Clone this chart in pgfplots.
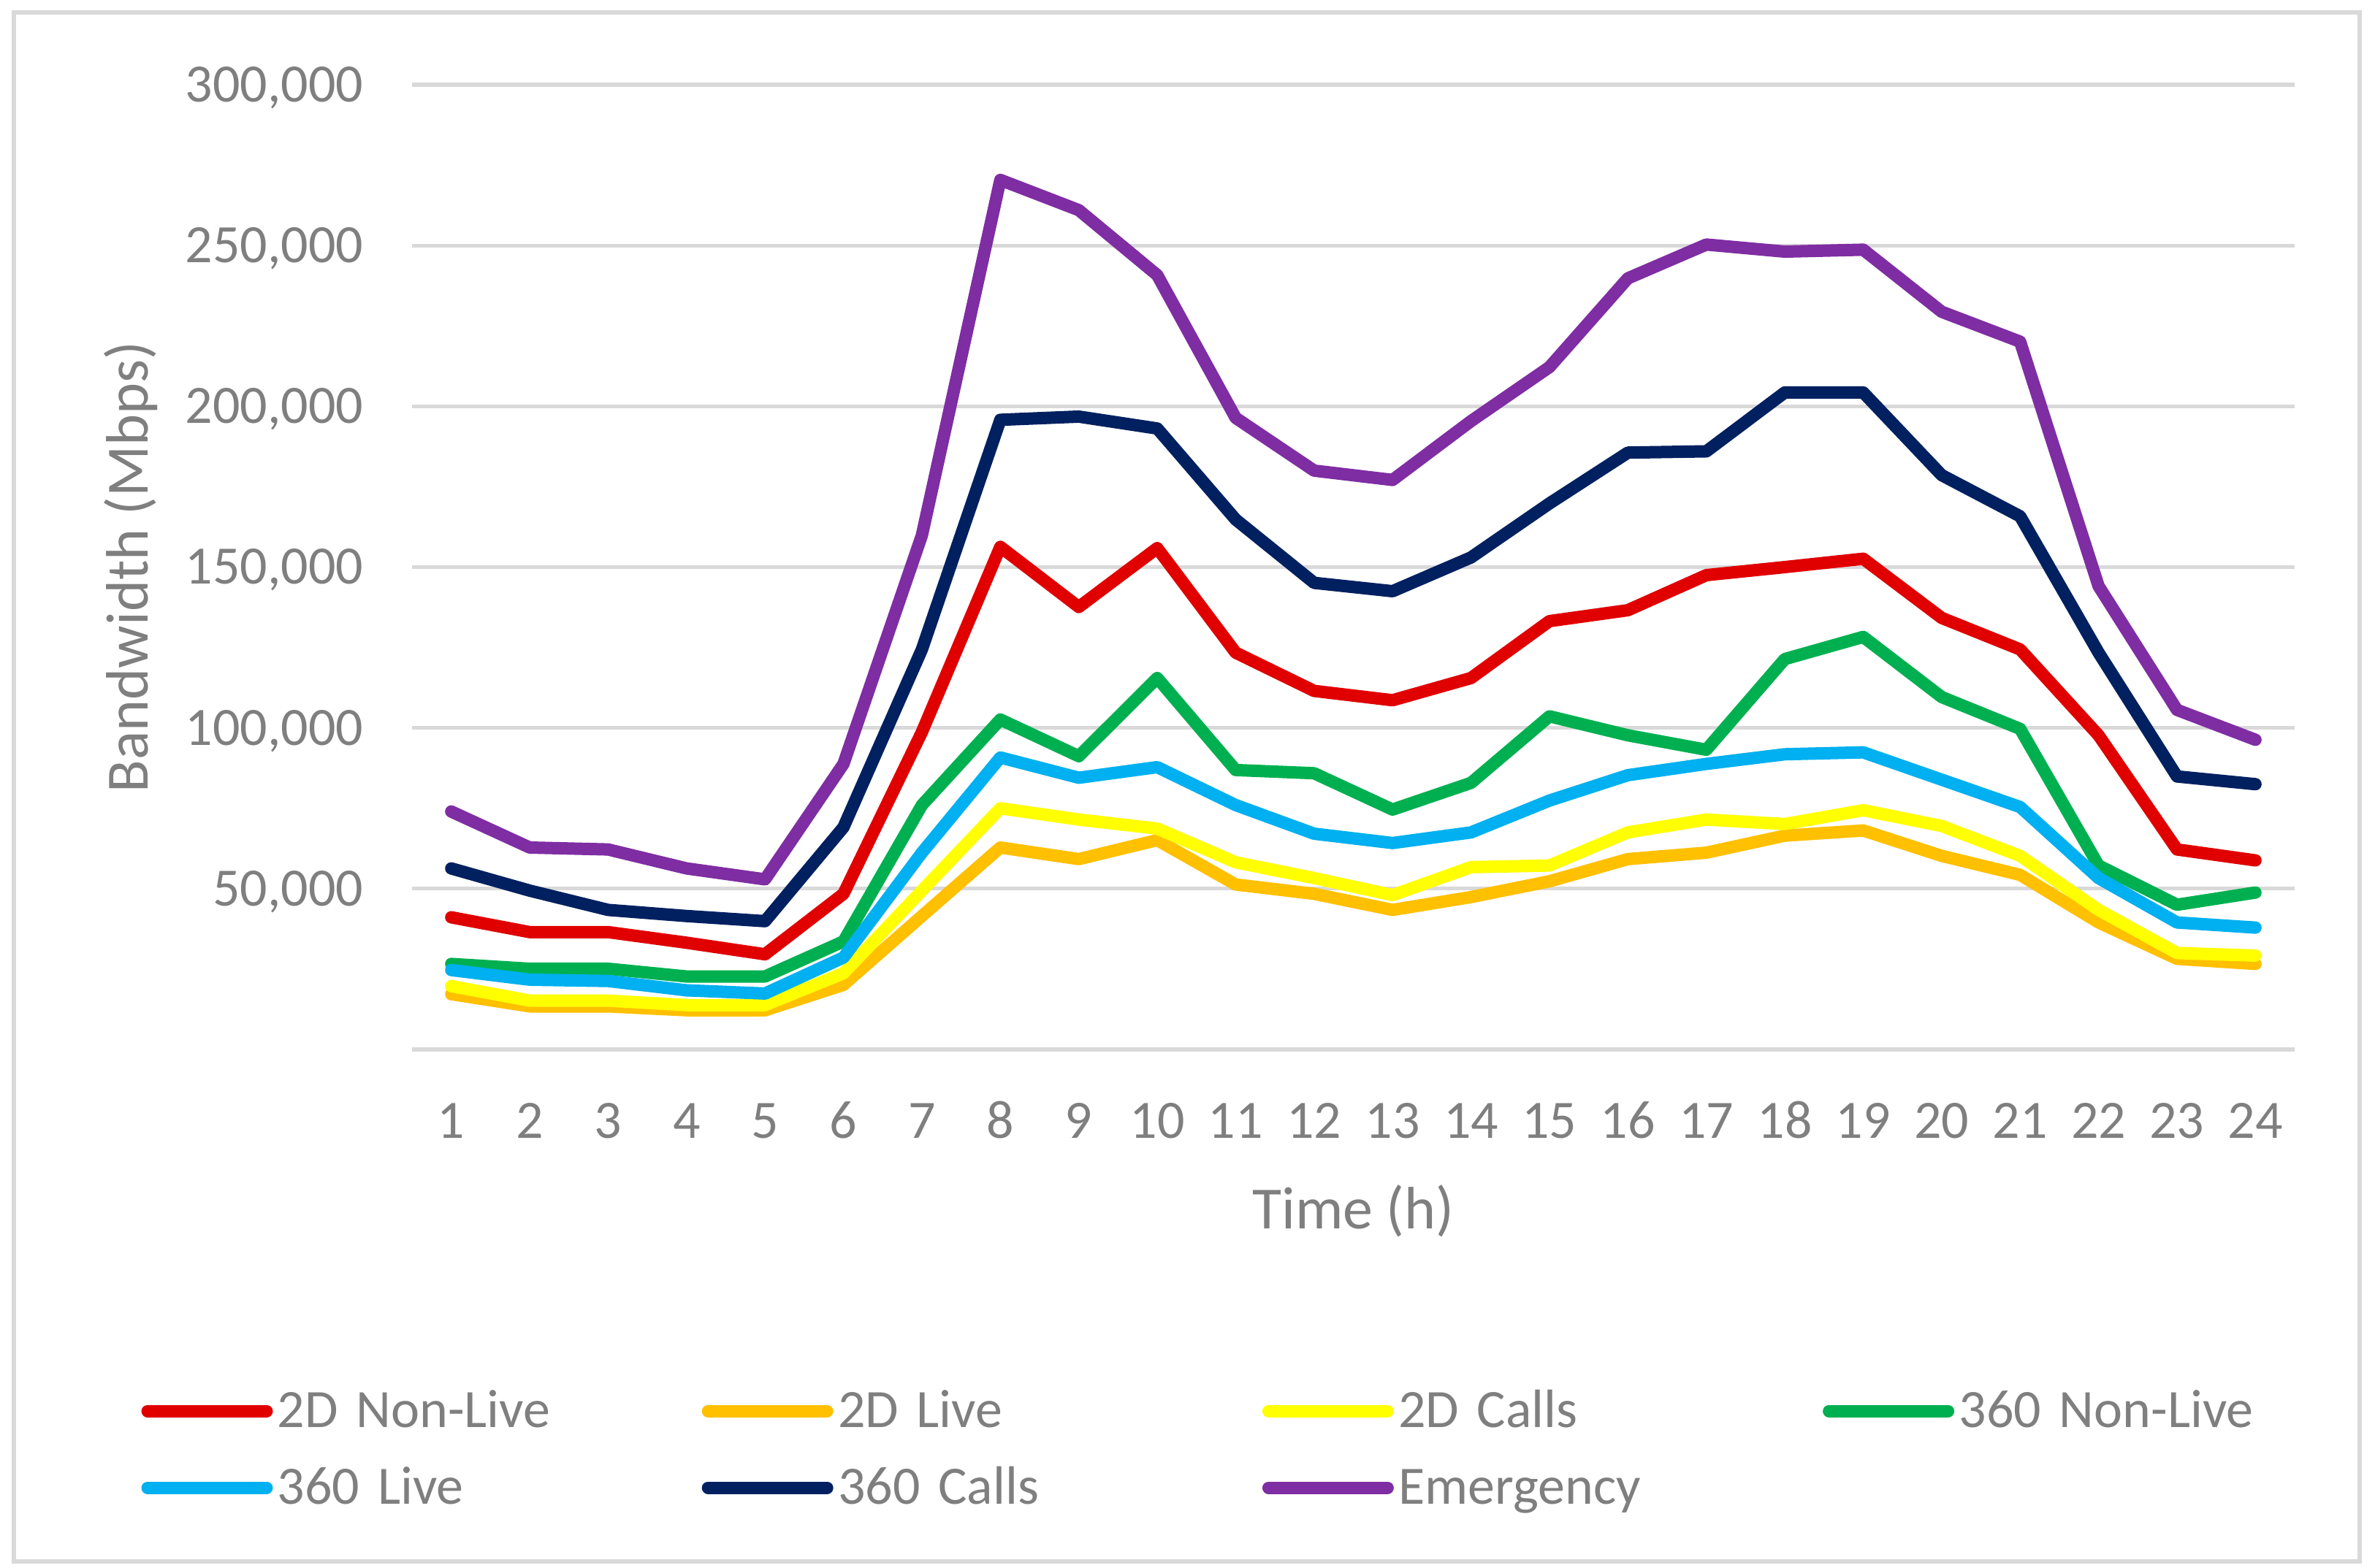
\documentclass[border=0pt]{standalone}
\usepackage{fontspec}
\setmainfont{Carlito}
\usepackage{pgfplots}
\pgfplotsset{compat=1.18}
\definecolor{txtgray}{HTML}{7F7F7F}
\definecolor{gridgray}{HTML}{D9D9D9}
\definecolor{cRed}{HTML}{E00000}
\definecolor{cOrange}{HTML}{FFC000}
\definecolor{cYellow}{HTML}{FFFF00}
\definecolor{cGreen}{HTML}{00B050}
\definecolor{cCyan}{HTML}{00B0F0}
\definecolor{cNavy}{HTML}{002060}
\definecolor{cPurple}{HTML}{7F2DA3}
\begin{document}
\begin{tikzpicture}
\useasboundingbox (0,0) rectangle (812.75pt,536.5pt);
\draw[gridgray, line width=1.5pt] (4.75pt,2pt) rectangle (807.5pt,532.25pt);
\begin{axis}[
  at={(141pt,177.25pt)}, anchor=south west,
  scale only axis, width=644.25pt, height=330.25pt,
  xmin=0.5, xmax=24.5, ymin=0, ymax=300000,
  xtick={1,2,...,24},
  xticklabels={1,2,3,4,5,6,7,8,9,10,11,12,13,14,15,16,17,18,19,20,21,22,23,24},
  ytick={0,50000,100000,150000,200000,250000,300000},
  yticklabels={{},{50,000},{100,000},{150,000},{200,000},{250,000},{300,000}},
  scaled y ticks=false, scaled x ticks=false,
  ymajorgrids, grid style={gridgray, line width=1.3pt},
  axis line style={draw=none},
  major tick length=0pt,
  tick style={draw=none},
  ticklabel style={font=\fontsize{18.5}{22}\selectfont, text=txtgray, inner sep=0pt},
  xticklabel style={anchor=base, yshift=-30.25pt},
  yticklabel style={anchor=base east, xshift=-16.5pt, yshift=-5.85pt},
  label style={font=\fontsize{20.5}{24}\selectfont, text=txtgray},
  xlabel={Time (h)}, ylabel={Bandwidth (Mbps)},
  xlabel style={at={(axis description cs:0.5,-0.1862)}, anchor=base},
  ylabel style={at={(axis description cs:-0.14009,0.5)}, anchor=base},
  legend columns=4,
  legend cell align=left,
  legend style={draw=none, fill=none, at={(axis description cs:-0.14377,-0.34898)}, anchor=north west,
    inner sep=0pt, outer sep=0pt, row sep=9.25pt, font=\fontsize{18.5}{22}\selectfont, text=txtgray,
    nodes={inner sep=0pt, text height=14pt, text depth=3pt, text width=140pt, align=left},
    /tikz/every odd column/.append style={column sep=1.6pt},
    /tikz/every even column/.append style={column sep=5.2pt}},
  legend image code/.code={\draw[#1, line cap=round] (0pt,0pt) -- (40.75pt,0pt);},
  every axis plot/.append style={line width=4.25pt, line join=round, line cap=round, mark=none},
  clip=false,
]
\addplot[cRed] coordinates {(1,41100) (2,36500) (3,36500) (4,33200) (5,29600) (6,48400) (7,98700) (8,156300) (9,137600) (10,155900) (11,123400) (12,111500) (13,108600) (14,115500) (15,133200) (16,136600) (17,147500) (18,150000) (19,152600) (20,134200) (21,124400) (22,97700) (23,62200) (24,58800)};
\addlegendentry{2D Non-Live}
\addplot[cOrange] coordinates {(1,17200) (2,13400) (3,13400) (4,12200) (5,12200) (6,20100) (7,41500) (8,62800) (9,59200) (10,65100) (11,51300) (12,48400) (13,43400) (14,47400) (15,52300) (16,59200) (17,61200) (18,66500) (19,68100) (20,60200) (21,54300) (22,39500) (23,28200) (24,26600)};
\addlegendentry{2D Live}
\addplot[cYellow] coordinates {(1,19700) (2,15200) (3,15200) (4,13800) (5,13800) (6,23700) (7,49400) (8,75000) (9,71500) (10,68700) (11,58200) (12,53300) (13,48000) (14,56700) (15,57200) (16,67500) (17,71500) (18,70100) (19,74400) (20,69500) (21,60200) (22,43400) (23,30000) (24,29200)};
\addlegendentry{2D Calls}
\addplot[cGreen] coordinates {(1,26600) (2,25100) (3,25100) (4,22700) (5,22700) (6,33600) (7,76000) (8,102600) (9,91200) (10,115500) (11,86900) (12,85900) (13,74600) (14,82900) (15,103600) (16,97700) (17,93200) (18,121400) (19,128300) (20,109600) (21,99700) (22,57200) (23,45000) (24,48800)};
\addlegendentry{360 Non-Live}
\addplot[cCyan] coordinates {(1,24700) (2,21700) (3,21300) (4,18400) (5,17400) (6,28600) (7,61200) (8,90800) (9,84500) (10,87800) (11,76000) (12,67100) (13,64200) (14,67500) (15,77400) (16,85300) (17,88800) (18,91800) (19,92400) (20,83900) (21,75400) (22,53300) (23,39500) (24,37900)};
\addlegendentry{360 Live}
\addplot[cNavy] coordinates {(1,56300) (2,49400) (3,43400) (4,41500) (5,39900) (6,69100) (7,124400) (8,195800) (9,196800) (10,193100) (11,164800) (12,145100) (13,142500) (14,153000) (15,169800) (16,185600) (17,186000) (18,204300) (19,204300) (20,178600) (21,165800) (22,123400) (23,84900) (24,82500)};
\addlegendentry{360 Calls}
\addplot[cPurple] coordinates {(1,74000) (2,62800) (3,62200) (4,56300) (5,52900) (6,88800) (7,159900) (8,270400) (9,261000) (10,240800) (11,196400) (12,180000) (13,177100) (14,195400) (15,212200) (16,239800) (17,250300) (18,248100) (19,248700) (20,229400) (21,220100) (22,144100) (23,105600) (24,96300)};
\addlegendentry{Emergency}
\end{axis}
\end{tikzpicture}
\end{document}
